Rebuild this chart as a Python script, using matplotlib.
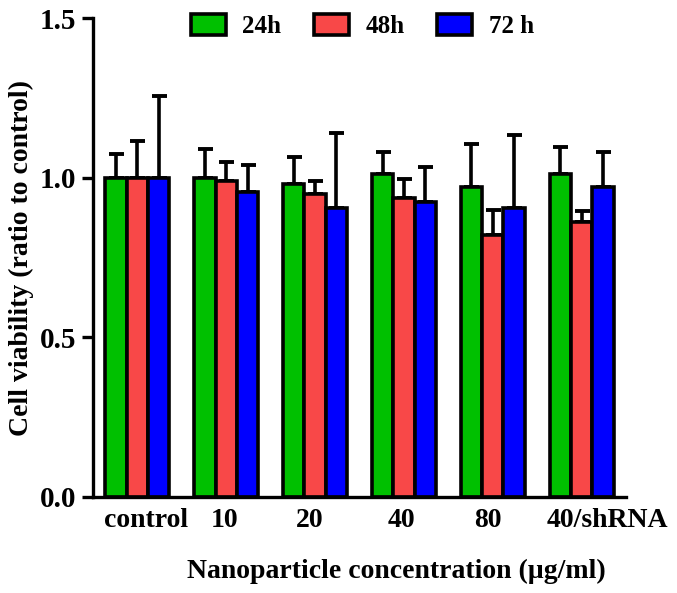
import numpy as np
import matplotlib
matplotlib.use('Agg')
import matplotlib.pyplot as plt
from matplotlib.transforms import ScaledTranslation

plt.rcParams['font.family'] = 'Liberation Serif'
plt.rcParams['font.weight'] = 'bold'

# 数据
groups = ['control', '10', '20', '40', '80', '40/shRNA']
series = ['24h', '48h', '72 h']
v24 = [1.00, 1.00, 0.98, 1.01, 0.97, 1.01]
v48 = [1.00, 0.99, 0.95, 0.935, 0.82, 0.86]
v72 = [1.00, 0.955, 0.905, 0.925, 0.905, 0.97]
e24 = [0.075, 0.09, 0.085, 0.07, 0.135, 0.085]
e48 = [0.115, 0.06, 0.04, 0.06, 0.08, 0.035]
e72 = [0.255, 0.085, 0.235, 0.11, 0.23, 0.11]
colors = ['#00C000', '#F84848', '#0000FF']

fig = plt.figure(figsize=(6.77, 5.93), dpi=100)
ax = fig.add_axes([0.1374, 0.1619, 0.7873, 0.8077])

x = np.arange(len(groups))
w = 0.24
for k, (vals, errs) in enumerate([(v24, e24), (v48, e48), (v72, e72)]):
    pos = x + (k - 1) * w
    ax.errorbar(pos, vals, yerr=[np.zeros(len(vals)), errs], fmt='none',
                ecolor='black', elinewidth=2.6, capsize=5.4, capthick=2.8, zorder=1)
    ax.bar(pos, vals, w, color=colors[k], edgecolor='black', linewidth=2.6,
           label=series[k], zorder=2)

ax.set_xlim(-0.5, 5.5)
ax.set_ylim(0, 1.5)
ax.set_yticks([0, 0.5, 1.0, 1.5])
ax.set_yticklabels(['0.0', '0.5', '1.0', '1.5'])
ax.set_xticks(x)
ax.set_xticklabels(groups)
ax.tick_params(axis='x', length=0, pad=8, labelsize=20)
ax.tick_params(axis='y', length=8, width=2.4, pad=4, labelsize=21)
for s in ['top', 'right']:
    ax.spines[s].set_visible(False)
for s in ['left', 'bottom']:
    ax.spines[s].set_linewidth(2.4)

# 个别刻度标签微调位置
shifts = [9, -2, -5, -3, -5, 26]
for lab, dx in zip(ax.get_xticklabels(), shifts):
    lab.set_transform(lab.get_transform() + ScaledTranslation(dx / 100, 0, fig.dpi_scale_trans))

ax.set_ylabel('Cell viability (ratio to control)', fontsize=20, fontweight='bold')
ax.yaxis.set_label_coords(-0.11, 0.5)
ax.set_xlabel('Nanoparticle concentration (µg/ml)', fontsize=20, fontweight='bold')
ax.xaxis.set_label_coords(0.57, -0.13)

ax.legend(loc='center', bbox_to_anchor=(0.535, 0.956), bbox_transform=fig.transFigure,
          ncol=3, frameon=False, fontsize=18, handlelength=1.4, handleheight=0.9,
          handletextpad=0.65, columnspacing=1.32)

plt.savefig('out.png', dpi=100)
